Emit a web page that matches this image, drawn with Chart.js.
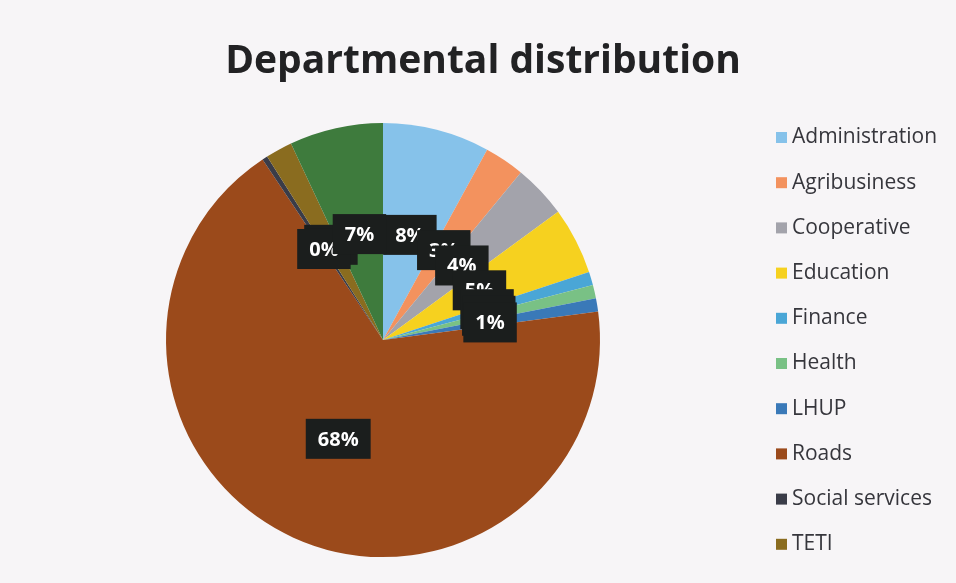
<!DOCTYPE html>
<html>
<head>
<meta charset="utf-8">
<title>Departmental distribution</title>
<script src="https://cdn.jsdelivr.net/npm/chart.js@4.4.1/dist/chart.umd.min.js"></script>
<style>
  html, body { margin: 0; padding: 0; background: #f7f5f7; }
  .chart-box { width: 956px; height: 583px; }
</style>
</head>
<body>
<div class="chart-box"><canvas id="pie"></canvas></div>
<script>
// departments in slice order, clockwise from 12 o'clock
const departments = ['Administration', 'Agribusiness', 'Cooperative', 'Education', 'Finance',
    'Health', 'LHUP', 'Roads', 'Social services', 'TETI', 'Other'];
// share of the total, percent
const shares = [8, 3, 4, 5, 1, 1, 1, 68, 0.4, 2, 7];
// only the first ten fit in the legend column
const legendNames = departments.slice(0, 10);

const chartTitle = 'Departmental distribution';

const sliceColors = ['#86c2ea', '#f3925e', '#a3a3ab', '#f6d11f', '#4aa6d6', '#79c185',
    '#3a79b8', '#9b4a1b', '#3a3c48', '#8a6c1f', '#3e7b3d'];

// labels are stacked on top of each other near the centre, Social services goes over TETI
const labelOrder = [0, 1, 2, 3, 4, 5, 6, 7, 9, 8, 10];

const paintBackground = {
    id: 'paintBackground',
    beforeDraw: (chart) => {
        const ctx = chart.ctx;
        ctx.save();
        ctx.fillStyle = '#f7f5f7';
        ctx.fillRect(0, 0, chart.width, chart.height);
        ctx.restore();
    }
};

/**
 * Title sits over the whole figure (pie + legend), not just the pie area
 */
const wideTitle = {
    id: 'wideTitle',
    afterDraw: (chart) => {
        const ctx = chart.ctx;
        ctx.save();
        ctx.font = 'bold 39px "Open Sans"';
        ctx.fillStyle = '#222224';
        ctx.textAlign = 'center';
        ctx.textBaseline = 'alphabetic';
        ctx.fillText(chartTitle, 483, 73);
        ctx.restore();
    }
};

/**
 * Black value boxes at the middle of each slice
 */
const valueBoxes = {
    id: 'valueBoxes',
    afterDatasetsDraw: (chart) => {
        const ctx = chart.ctx;
        const arcs = chart.getDatasetMeta(0).data;
        ctx.save();
        ctx.font = 'bold 20px "Open Sans"';
        ctx.textAlign = 'center';
        ctx.textBaseline = 'middle';
        labelOrder.forEach((i) => {
            const pos = arcs[i].tooltipPosition();
            const text = Math.round(shares[i]) + '%';
            const w = ctx.measureText(text).width + 24;
            const h = 40;
            ctx.fillStyle = '#1b1e1d';
            ctx.fillRect(pos.x - w / 2, pos.y - h / 2, w, h);
            ctx.fillStyle = '#ffffff';
            ctx.fillText(text, pos.x, pos.y + 1);
        });
        ctx.restore();
    }
};

/**
 * Legend column on the right, drawn by hand so the rows can be spaced out
 */
const sideLegend = {
    id: 'sideLegend',
    afterDraw: (chart) => {
        const ctx = chart.ctx;
        const firstY = 137.5;
        const step = 45.2;
        ctx.save();
        ctx.font = '21px "Open Sans"';
        ctx.textAlign = 'left';
        ctx.textBaseline = 'middle';
        legendNames.forEach((name, i) => {
            const y = firstY + i * step;
            ctx.fillStyle = sliceColors[i];
            ctx.fillRect(776, y - 5.5, 11, 11);
            ctx.fillStyle = '#36363c';
            ctx.fillText(name, 792, y);
        });
        ctx.restore();
    }
};

const chartConfig = {
    type: 'pie',
    data: {
        labels: departments,
        datasets: [
            {
                data: shares,
                backgroundColor: sliceColors,
                borderWidth: 0
            }
        ]
    },
    options: {
        responsive: true,
        maintainAspectRatio: false,
        animation: false,
        layout: {
            padding: { top: 123, right: 190, bottom: 26, left: 0 }
        },
        plugins: {
            legend: { display: false },
            tooltip: { enabled: false },
            title: { display: false }
        }
    },
    plugins: [paintBackground, valueBoxes, sideLegend, wideTitle]
};

new Chart(document.getElementById('pie'), chartConfig);
</script>
</body>
</html>
